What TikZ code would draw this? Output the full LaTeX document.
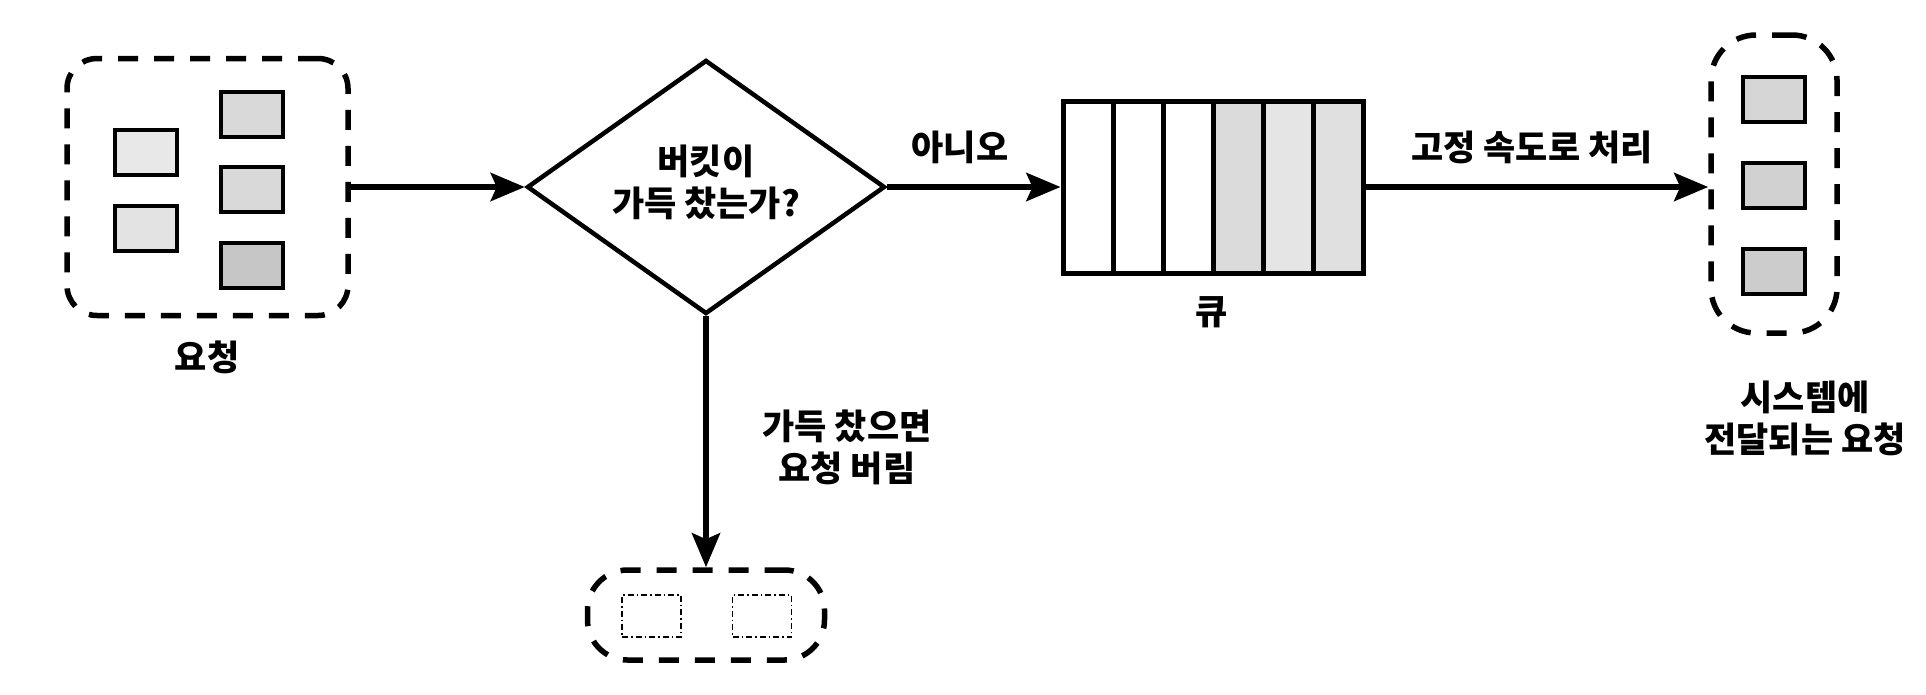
\documentclass[tikz,border=0pt]{standalone}
\usepackage{fontspec}
\setmainfont{Noto Sans CJK KR}
\usetikzlibrary{shapes.geometric,arrows.meta}
\begin{document}
\begin{tikzpicture}[x=1pt,y=-1pt,
  dbox/.style={draw, line width=5.5pt, dash pattern=on 20pt off 16pt, rounded corners=#1, inner sep=0pt},
  reqbox/.style={draw, line width=4pt, fill=#1, minimum width=62pt, minimum height=45pt, inner sep=0pt},
  ghost/.style={draw, line width=1.3pt, dash pattern=on 6pt off 3pt on 1.5pt off 3pt, minimum width=59pt, minimum height=42pt, inner sep=0pt},
  cell/.style={draw, line width=5pt, fill=#1, minimum width=50pt, minimum height=172pt, inner sep=0pt},
  arr/.style={line width=6pt, -{Stealth[length=34pt,width=28pt,inset=6pt]}},
  lbl/.style={font=\bfseries\fontsize{35pt}{42pt}\selectfont, align=center, inner sep=0pt}
]
\useasboundingbox (0,0) rectangle (1926,694);
% incoming requests
\node[dbox=30pt, minimum width=281pt, minimum height=257pt] (req) at (207.5,187) {};
\node[reqbox=gray!18] (r1) at (146,152) {};
\node[reqbox=gray!22] (r2) at (146,228) {};
\node[reqbox=gray!30] (r3) at (252,114.5) {};
\node[reqbox=gray!30] (r4) at (252,189.5) {};
\node[reqbox=gray!45] (r5) at (252,265.5) {};
\node[lbl] (reqlbl) at (207,357) {요청};
% decision
\node[draw, diamond, line width=4.5pt, minimum width=358pt, minimum height=254pt, inner sep=0pt] (dia) at (706,187) {};
\node[lbl] (diatxt) at (706,182) {버킷이\\가득 찼는가?};
% queue
\node[cell=white] (q1) at (1088,187) {};
\node[cell=white] (q2) at (1138,187) {};
\node[cell=white] (q3) at (1188,187) {};
\node[cell=gray!28] (q4) at (1238,187) {};
\node[cell=gray!20] (q5) at (1288,187) {};
\node[cell=gray!24] (q6) at (1338,187) {};
\node[lbl] (qlbl) at (1212,312) {큐};
% output
\node[dbox=45pt, minimum width=126pt, minimum height=298pt] (out) at (1774,184) {};
\node[reqbox=gray!32] (o1) at (1774,99.5) {};
\node[reqbox=gray!36] (o2) at (1774,185.5) {};
\node[reqbox=gray!40] (o3) at (1774,271) {};
\node[lbl] (outlbl) at (1805,418) {시스템에\\전달되는 요청};
% dropped
\node[dbox=40pt, minimum width=237pt, minimum height=90pt] (drop) at (706,615) {};
\node[ghost] (d1) at (651.5,616) {};
\node[ghost] (d2) at (762,616) {};
\node[lbl] (droplbl) at (847,447) {가득 찼으면\\요청 버림};
% connectors
\draw[arr] (req.east |- dia.west) -- (dia.west);
\draw[arr] (dia.east) -- (q1.west);
\draw[arr] (q6.east) -- (q6.east -| out.west);
\draw[arr] (dia.south) -- (drop.north);
\node[lbl] (nolbl) at (960,147) {아니오};
\node[lbl] (ratelbl) at (1532,147) {고정 속도로 처리};
\end{tikzpicture}
\end{document}
